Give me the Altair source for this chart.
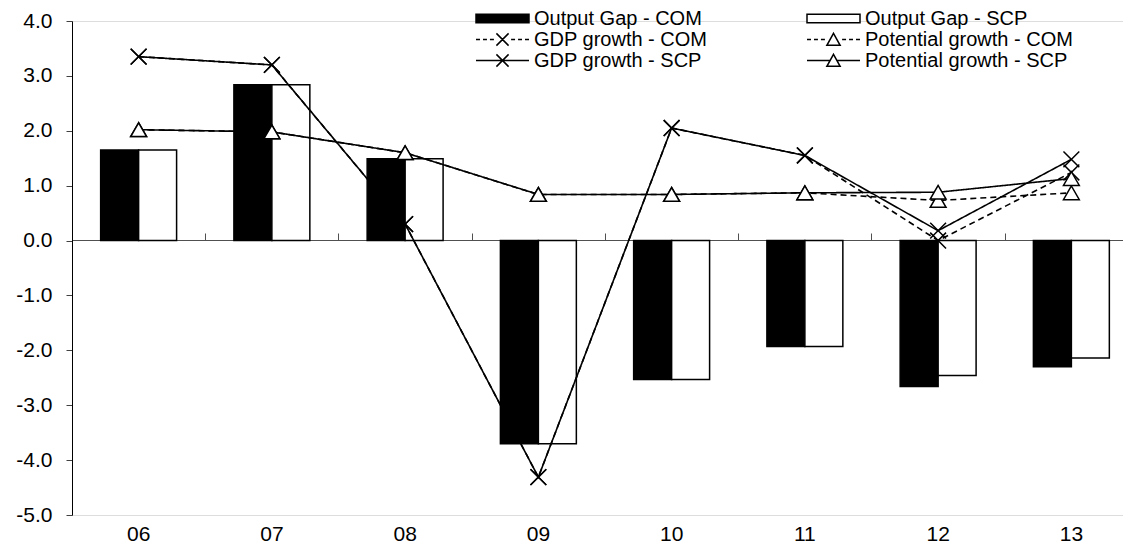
import altair as alt
import pandas as pd

FONT = "Liberation Sans"

years = ["06", "07", "08", "09", "10", "11", "12", "13"]
gap_com = [1.65, 2.84, 1.49, -3.70, -2.53, -1.93, -2.66, -2.30]
gap_scp = [1.65, 2.84, 1.49, -3.70, -2.53, -1.93, -2.46, -2.14]
gdp_com = [3.35, 3.20, 0.30, -4.31, 2.05, 1.55, 0.00, 1.24]
gdp_scp = [3.35, 3.20, 0.30, -4.31, 2.05, 1.55, 0.18, 1.48]
pot_com = [2.02, 1.98, 1.60, 0.84, 0.84, 0.87, 0.73, 0.87]
pot_scp = [2.02, 1.98, 1.60, 0.84, 0.84, 0.87, 0.88, 1.13]

bar_names = ["Output Gap - COM", "Output Gap - SCP"]
line_names = ["GDP growth - COM", "Potential growth - COM",
              "GDP growth - SCP", "Potential growth - SCP"]
legend_names = ["Output Gap - COM", "Output Gap - SCP",
                "GDP growth - COM", "Potential growth - COM",
                "GDP growth - SCP", "Potential growth - SCP"]

bar_rows = []
for name, vals in zip(bar_names, [gap_com, gap_scp]):
    for y, v in zip(years, vals):
        bar_rows.append({"year": y, "series": name, "value": v})
df_bars = pd.DataFrame(bar_rows)

line_rows = []
for name, vals in zip(line_names, [gdp_com, pot_com, gdp_scp, pot_scp]):
    for y, v in zip(years, vals):
        line_rows.append({"year": y, "series": name, "value": v})
df_lines = pd.DataFrame(line_rows)

df_leg = pd.DataFrame({"label": legend_names})

XPATH = "M-1,-1L1,1M-1,1L1,-1"

xscale = alt.Scale(domain=years, range=[0, 1066], paddingInner=0.43, paddingOuter=0.215)

yscale = alt.Scale(domain=[-5, 4], nice=False, zero=False)
Y = alt.Y(
    "value:Q",
    scale=yscale,
    axis=alt.Axis(
        values=[-5, -4, -3, -2, -1, 0, 1, 2, 3, 4],
        labelExpr="(datum.value < 0 ? '-' : '') + format(abs(datum.value), '.1f')",
        tickSize=6, labelPadding=14, domainColor="black", tickColor="#404040",
        domainWidth=1, tickWidth=1,
        labelFontSize=21, labelColor="black", labelFont=FONT,
        grid=False, title=None,
    ),
)

bars = alt.Chart(df_bars).mark_bar(stroke="black", strokeWidth=1.5).encode(
    x=alt.X(
        "year:N", scale=xscale, sort=years,
        axis=alt.Axis(orient="bottom", domain=False, ticks=False, tickSize=0,
                      labelPadding=8, labelFontSize=21, labelColor="black",
                      labelFont=FONT, labelAngle=0, title=None, grid=False),
    ),
    xOffset=alt.XOffset("series:N", scale=alt.Scale(domain=bar_names, paddingInner=0, paddingOuter=0)),
    y=Y,
    fill=alt.Fill("series:N", scale=alt.Scale(domain=bar_names, range=["black", "white"]), legend=None),
)

lines = alt.Chart(df_lines).mark_line(color="black", strokeWidth=1.6).encode(
    x=alt.X(
        "year:N", scale=xscale, sort=years,
        axis=alt.Axis(orient="top", offset=-219, labels=False, domain=True,
                      domainColor="#505050", domainWidth=1, ticks=True, tickSize=7,
                      tickColor="#505050", tickWidth=1, bandPosition=0, tickOffset=-28.65,
                      title=None, grid=False),
    ),
    y=Y,
    detail="series:N",
    strokeDash=alt.StrokeDash(
        "series:N",
        scale=alt.Scale(domain=line_names, range=[[6, 4], [6, 4], [1, 0], [1, 0]]),
        legend=None,
    ),
)

points = alt.Chart(df_lines).mark_point(
    filled=True, fill="white", stroke="black", strokeWidth=1.5, size=250, opacity=1
).encode(
    x=alt.X("year:N", scale=xscale, sort=years, axis=None),
    y=Y,
    shape=alt.Shape(
        "series:N",
        scale=alt.Scale(domain=line_names, range=[XPATH, "triangle-up", XPATH, "triangle-up"]),
        legend=None,
    ),
)

# legend symbol glyphs (unit box -1..1)
RECT = "M-1,-0.16H1V0.16H-1Z"
DASHES = ("M-1,0H-0.85M-0.737,0H-0.587M-0.474,0H-0.324"
          "M0.324,0H0.474M0.587,0H0.737M0.85,0H1")
SOLID_X = "M-1,0H1"
SOLID_T = "M-1,0H-0.13M0.13,0H1"
XM = "M-0.23,-0.23L0.23,0.23M-0.23,0.23L0.23,-0.23"
TM = "M0,-0.23L0.25,0.22L-0.25,0.22Z"

legend_shapes = [RECT, RECT, DASHES + XM, DASHES + TM, SOLID_X + XM, SOLID_T + TM]
legend_fills = ["black", "white", "white", "white", "white", "white"]

leg_common = dict(
    orient="none", legendX=403, legendY=-13, title=None, columns=2, direction="horizontal",
    columnPadding=98, rowPadding=0, clipHeight=21, symbolSize=2809, symbolStrokeWidth=1.5,
    symbolOpacity=1, labelFontSize=20, labelFont=FONT, labelColor="black", labelLimit=400,
    labelOffset=4, symbolOffset=0, padding=0,
)

leg = alt.Chart(df_leg).mark_point(opacity=0, filled=False, stroke="black", strokeWidth=1.5).encode(
    shape=alt.Shape("label:N", scale=alt.Scale(domain=legend_names, range=legend_shapes),
                    legend=alt.Legend(**leg_common)),
    fill=alt.Fill("label:N", scale=alt.Scale(domain=legend_names, range=legend_fills),
                  legend=alt.Legend(**leg_common)),
)

chart = alt.layer(bars, lines, points, leg).resolve_scale(
    shape="independent", fill="independent", strokeDash="independent"
).resolve_axis(x="independent").properties(
    width=1051, height=494,
    autosize=alt.AutoSizeParams(type="none"),
    padding={"left": 64, "top": 13, "right": 0, "bottom": 30},
).configure_view(stroke=None).configure(font=FONT, background="white")

chart.save("out.html", embed_options={"renderer": "svg", "actions": False})
